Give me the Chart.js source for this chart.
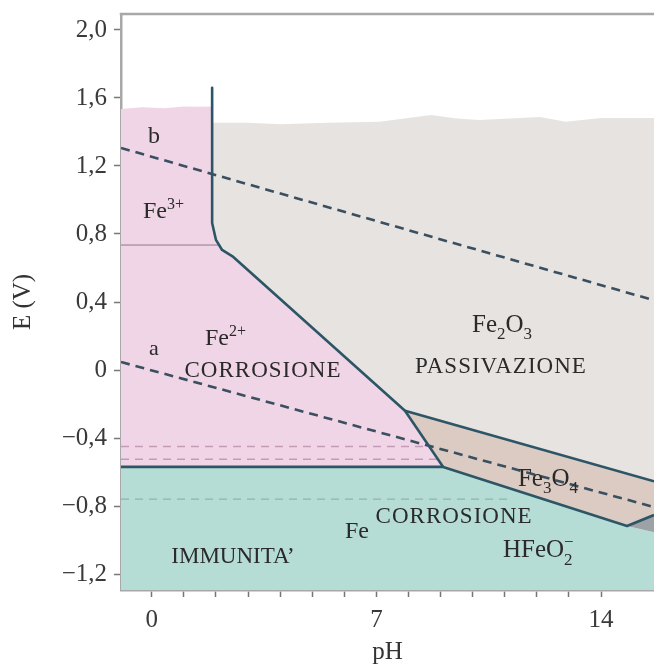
<!DOCTYPE html>
<html><head><meta charset="utf-8">
<script src="https://cdn.jsdelivr.net/npm/chart.js@4.4.1/dist/chart.umd.min.js"></script>
<style>html,body{margin:0;padding:0;background:#fff;}#wrap{width:654px;height:667px;position:relative;}</style>
</head><body><div id="wrap"><canvas id="c"></canvas></div>
<script>
// ---- axis ranges and ticks ----
const PH_MIN = -0.96, PH_MAX = 15.65;
const E_MIN = -1.294, E_MAX = 2.094;
const xTickValues = [0,1,2,3,4,5,6,7,8,9,10,11,12,13,14];
const xTickLabels = {0:'0', 7:'7', 14:'14'};
const yTickValues = [-1.2,-0.8,-0.4,0,0.4,0.8,1.2,1.6,2.0];
const yTickLabels = ['−1,2','−0,8','−0,4','0','0,4','0,8','1,2','1,6','2,0'];

// ---- boundaries [pH, E(V)] ----
const fe2OxideBoundary = [[1.88,1.66],[1.88,0.865],[2.0,0.765],[2.19,0.706],[2.54,0.665],[7.89,-0.24],[9.08,-0.57]];
const ironBoundary = [[PH_MIN,-0.57],[9.08,-0.57],[14.81,-0.918],[PH_MAX,-0.853]];
const magnetiteTop = [[7.89,-0.24],[PH_MAX,-0.655]];
const fe3Fe2Line = [[PH_MIN,0.735],[2.08,0.735]];
const lineA = [[PH_MIN,0.047],[PH_MAX,-0.806]];
const lineB = [[PH_MIN,1.306],[PH_MAX,0.41]];
const dashFe2Upper = [[PH_MIN,-0.45],[8.65,-0.45]];
const dashFe2Lower = [[PH_MIN,-0.525],[8.92,-0.525]];
const dashFe = [[PH_MIN,-0.76],[11.2,-0.76]];
const pinkTop = [[PH_MIN,1.535],[-0.3,1.545],[0.4,1.54],[1.0,1.55],[1.5,1.548],[1.88,1.55]];
const grayTop = [[1.88,1.455],[3.0,1.455],[4.0,1.445],[5.5,1.455],[7.1,1.46],[8.7,1.5],[9.5,1.48],[10.2,1.47],[12.1,1.488],[12.9,1.46],[14.0,1.482],[PH_MAX,1.482]];
const tealTop = [[PH_MIN,-0.57],[9.08,-0.57],[14.81,-0.918],[PH_MAX,-0.955]];
const wedgeTop = [[14.81,-0.918],[PH_MAX,-0.853]];

// ---- region labels ----
const regionLabels = [
  {parts:[{t:'b'}], ph:-0.118, e:1.335, size:24},
  {parts:[{t:'Fe'},{t:'3+',v:'sup'}], ph:-0.274, e:0.894, size:24},
  {parts:[{t:'a'}], ph:-0.087, e:0.088, size:22},
  {parts:[{t:'Fe'},{t:'2+',v:'sup'}], ph:1.658, e:0.147, size:24},
  {parts:[{t:'CORROSIONE'}], ph:3.465, e:-0.041, size:23, center:true, sp:1},
  {parts:[{t:'Fe'},{t:'2',v:'sub'},{t:'O'},{t:'3',v:'sub'}], ph:9.98, e:0.224, size:25},
  {parts:[{t:'PASSIVAZIONE'}], ph:10.88, e:-0.018, size:23, center:true, sp:1},
  {parts:[{t:'Fe'},{t:'3',v:'sub'},{t:'O'},{t:'4',v:'sub'}], ph:11.41, e:-0.682, size:25},
  {parts:[{t:'Fe'}], ph:6.02, e:-0.988, size:24},
  {parts:[{t:'CORROSIONE'}], ph:9.42, e:-0.900, size:23, center:true, sp:1},
  {parts:[{t:'IMMUNITA’'}], ph:2.53, e:-1.135, size:23, center:true},
  {parts:[{t:'HFeO'},{t:'2',v:'sub',sup:'−'}], ph:10.944, e:-1.100, size:25}
];

const FONT = '"Liberation Serif", "DejaVu Serif", serif';
const pts = a => a.map(p => ({x:p[0], y:p[1]}));

const C = {
  pink:'#f0d5e7', gray:'#e7e3e0', teal:'#b6ddd5', tan:'#dccbc3', wedge:'#9da2a6',
  bound:'#2c5666', dash:'#3a4f5f', pinkDash:'#c49bb7', tealDash:'#8ab4ab', thin:'#8c7d84'
};

function region(data, bg, target, order){
  return {data:pts(data), backgroundColor:bg, borderWidth:0, pointRadius:0, fill:target, order:order, tension:0};
}
function stroke(data, color, width, dash, order){
  return {data:pts(data), borderColor:color, borderWidth:width, borderDash:dash||[], pointRadius:0, fill:false, order:order, tension:0, borderCapStyle:'butt', borderJoinStyle:'round'};
}

const datasets = [
  region(pinkTop.concat(fe2OxideBoundary.slice(1)), C.pink, {target:1}, 20),   //0
  region(ironBoundary.slice(0,2), 'rgba(0,0,0,0)', false, 20),                 //1
  region(grayTop, C.gray, {target:3}, 20),                                      //2
  region(fe2OxideBoundary.slice(1,6).concat([magnetiteTop[1]]), 'rgba(0,0,0,0)', false, 20), //3
  region(magnetiteTop, C.tan, {target:5}, 20),                                  //4
  region([magnetiteTop[0]].concat(ironBoundary.slice(1)), 'rgba(0,0,0,0)', false, 20), //5
  region(tealTop, C.teal, 'start', 21),                                         //6
  region(wedgeTop, C.wedge, {target:6}, 20),                                    //7
  stroke(fe3Fe2Line, C.thin, 1, null, 10),
  stroke(dashFe2Upper, C.pinkDash, 1.3, [8,6], 10),
  stroke(dashFe2Lower, C.pinkDash, 1.3, [8,6], 10),
  stroke(dashFe, C.tealDash, 1.3, [8,6], 10),
  stroke(lineA, C.dash, 2.6, [9,6], 5),
  stroke(lineB, C.dash, 2.6, [9,6], 5),
  stroke(fe2OxideBoundary, C.bound, 2.6, null, 1),
  stroke(ironBoundary, C.bound, 2.6, null, 1),
  stroke(magnetiteTop, C.bound, 2.6, null, 1)
];

function drawRich(ctx, x, y, lab){
  const size = lab.size, small = Math.round(size*0.66);
  ctx.letterSpacing = (lab.sp||0) + 'px';
  const w = lab.parts.map(p => {
    ctx.font = (p.v ? small : size) + 'px ' + FONT;
    let m = ctx.measureText(p.t).width;
    if (p.sup) m = Math.max(m, ctx.measureText(p.sup).width);
    return m;
  });
  const total = w.reduce((a,b)=>a+b,0);
  let cx = lab.center ? x - total/2 : x;
  ctx.textAlign = 'left'; ctx.textBaseline = 'alphabetic';
  lab.parts.forEach((p,i) => {
    ctx.font = (p.v ? small : size) + 'px ' + FONT;
    const dy = p.v === 'sub' ? size*0.3 : (p.v === 'sup' ? -size*0.38 : 0);
    ctx.fillText(p.t, cx, y + dy);
    if (p.sup) ctx.fillText(p.sup, cx, y - size*0.42);
    cx += w[i];
  });
  ctx.letterSpacing = '0px';
}

const annotate = {
  id:'annotate',
  afterDatasetsDraw(chart){
    const {ctx, chartArea:a, scales:{x, y}} = chart;
    ctx.save();
    ctx.beginPath(); ctx.rect(a.left, a.top, a.right-a.left, a.bottom-a.top); ctx.clip();
    ctx.fillStyle = '#2a2a2a';
    regionLabels.forEach(l => drawRich(ctx, x.getPixelForValue(l.ph), y.getPixelForValue(l.e), l));
    ctx.restore();
    // top frame line
    ctx.save();
    ctx.strokeStyle = '#a8a8a8'; ctx.lineWidth = 2.5;
    ctx.beginPath(); ctx.moveTo(a.left - 1.25, a.top); ctx.lineTo(a.right, a.top); ctx.stroke();
    ctx.restore();
  }
};

new Chart(document.getElementById('c'), {
  type:'line',
  data:{datasets},
  options:{
    responsive:true, maintainAspectRatio:false, animation:false,
    layout:{padding:{top:14, left:0, right:0, bottom:0}},
    plugins:{legend:{display:false}, tooltip:{enabled:false}},
    elements:{line:{tension:0}},
    scales:{
      x:{
        type:'linear', min:PH_MIN, max:PH_MAX,
        afterBuildTicks: s => { s.ticks = xTickValues.map(v => ({value:v})); },
        afterFit: s => { s.height = 77; s.paddingLeft = 0; s.paddingRight = 0; },
        ticks:{autoSkip:false, maxRotation:0, padding:8, color:'#3a3a3a',
          font:{family:FONT, size:25},
          callback: v => (xTickLabels[v] !== undefined ? xTickLabels[v] : '')},
        grid:{drawOnChartArea:false, drawTicks:true, tickLength:7, tickColor:'#777', tickWidth:1.5},
        border:{display:true, color:'#a8a8a8', width:2.5},
        title:{display:true, text:'pH', color:'#333', font:{family:FONT, size:25}, padding:{top:0, bottom:0}}
      },
      y:{
        type:'linear', min:E_MIN, max:E_MAX,
        afterBuildTicks: s => { s.ticks = yTickValues.map(v => ({value:v})); },
        afterFit: s => { s.width = 121; s.paddingTop = 0; s.paddingBottom = 0; },
        ticks:{autoSkip:false, padding:7, color:'#3a3a3a', font:{family:FONT, size:25},
          callback: v => { const i = yTickValues.findIndex(t => Math.abs(t - v) < 1e-6); return i >= 0 ? yTickLabels[i] : ''; }},
        grid:{drawOnChartArea:false, drawTicks:true, tickLength:7, tickColor:'#777', tickWidth:1.5},
        border:{display:true, color:'#a8a8a8', width:2.5},
        title:{display:true, text:'E (V)', color:'#333', font:{family:FONT, size:25}, padding:{top:8, bottom:0}}
      }
    }
  },
  plugins:[annotate]
});
</script></body></html>
